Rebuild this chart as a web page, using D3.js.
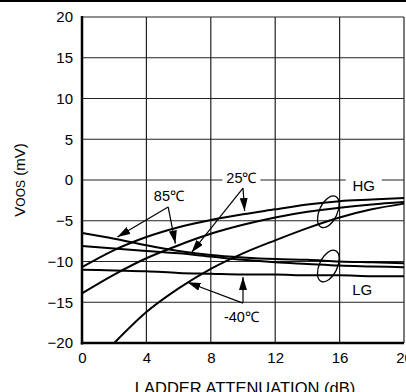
<!DOCTYPE html>
<html>
<head>
<meta charset="utf-8">
<script src="https://cdn.jsdelivr.net/npm/d3@7"></script>
<style>
  body { margin: 0; background: #fff; }
  svg { display: block; }
  text { font-family: "Liberation Sans", Arial, sans-serif; fill: #000; }
</style>
</head>
<body>
<script>
var w = 406, h = 392;

// ladder attenuation (dB) and offset (mV)
var atten = [0, 2, 4, 6, 8, 10, 12, 14, 16, 18, 20];
var hg25  = [-10.7, -8.6, -7.0, -5.8, -4.9, -4.2, -3.6, -3.0, -2.6, -2.4, -2.2];
var hg85  = [-13.9, -11.6, -9.6, -8.0, -6.6, -5.5, -4.6, -3.9, -3.4, -3.0, -2.7];
var hgM40 = [null, -20, -16.2, -13.3, -10.9, -9.0, -7.4, -5.9, -4.6, -3.6, -2.9];
var lg85  = [-6.5, -7.2, -8.0, -8.7, -9.2, -9.5, -9.7, -9.8, -10.0, -10.1, -10.2];
var lg25  = [-8.1, -8.4, -8.7, -9.0, -9.4, -9.8, -10.1, -10.3, -10.5, -10.6, -10.7];
var lgM40 = [-11.0, -11.1, -11.2, -11.4, -11.5, -11.6, -11.6, -11.7, -11.7, -11.8, -11.8];

var xTicks = [0, 4, 8, 12, 16, 20];
var yTicks = [-20, -15, -10, -5, 0, 5, 10, 15, 20];

var svg = d3.select("body").append("svg")
  .attr("width", w)
  .attr("height", h);

var xScale = d3.scaleLinear().domain([0, 20]).range([82, 404]);
var yScale = d3.scaleLinear().domain([-20, 20]).range([343, 17]);

// top rule of the page
svg.append("line")
  .attr("x1", 0).attr("x2", w)
  .attr("y1", 1).attr("y2", 1)
  .attr("stroke", "#000").attr("stroke-width", 2);

// grid
svg.selectAll(".vgrid")
  .data(xTicks.slice(1))
  .enter().append("line")
  .attr("x1", function(d) { return xScale(d); })
  .attr("x2", function(d) { return xScale(d); })
  .attr("y1", yScale(20)).attr("y2", yScale(-20))
  .attr("stroke", "#222").attr("stroke-width", 1.2);

svg.selectAll(".hgrid")
  .data(yTicks.slice(1))
  .enter().append("line")
  .attr("x1", xScale(0)).attr("x2", xScale(20))
  .attr("y1", function(d) { return yScale(d); })
  .attr("y2", function(d) { return yScale(d); })
  .attr("stroke", "#222").attr("stroke-width", 1.2);

// axes
var xAxis = d3.axisBottom(xScale).tickValues(xTicks).tickSize(0).tickPadding(9);
var yAxis = d3.axisLeft(yScale).tickValues(yTicks).tickSize(0).tickPadding(9);

var gx = svg.append("g")
  .attr("transform", "translate(0," + yScale(-20) + ")")
  .call(xAxis);
var gy = svg.append("g")
  .attr("transform", "translate(" + xScale(0) + ",0)")
  .call(yAxis);
[gx, gy].forEach(function(g) {
  g.select(".domain").remove();
  g.selectAll("text")
    .attr("font-size", "15px")
    .attr("font-family", "Liberation Sans, Arial, sans-serif");
});

svg.append("line")
  .attr("x1", xScale(0)).attr("x2", xScale(0))
  .attr("y1", yScale(20) - 1).attr("y2", yScale(-20) + 1.5)
  .attr("stroke", "#000").attr("stroke-width", 2.5);
svg.append("line")
  .attr("x1", xScale(0) - 1.2).attr("x2", xScale(20))
  .attr("y1", yScale(-20)).attr("y2", yScale(-20))
  .attr("stroke", "#000").attr("stroke-width", 2.5);

// axis titles
svg.append("text")
  .attr("transform", "translate(25," + yScale(0) + ") rotate(-90)")
  .attr("text-anchor", "middle")
  .attr("font-size", "15px")
  .text("V")
  .append("tspan").attr("font-size", "12px").text("OOS")
  .select(function() { return this.parentNode; })
  .append("tspan").text(" (mV)");

svg.append("text")
  .attr("x", 245).attr("y", 394)
  .attr("text-anchor", "middle")
  .attr("font-size", "16.5px")
  .text("LADDER ATTENUATION (dB)");

// curves
var line = d3.line()
  .defined(function(d) { return d[1] !== null; })
  .x(function(d) { return xScale(d[0]); })
  .y(function(d) { return yScale(d[1]); })
  .curve(d3.curveMonotoneX);

[hg25, hg85, hgM40, lg85, lg25, lgM40].forEach(function(s) {
  svg.append("path")
    .datum(atten.map(function(a, i) { return [a, s[i]]; }))
    .attr("d", line)
    .attr("fill", "none")
    .attr("stroke", "#000")
    .attr("stroke-width", 2);
});

// arrow heads
svg.append("defs").append("marker")
  .attr("id", "arrow")
  .attr("markerUnits", "userSpaceOnUse")
  .attr("viewBox", "0 0 13 8")
  .attr("refX", 13).attr("refY", 4)
  .attr("markerWidth", 13).attr("markerHeight", 8)
  .attr("orient", "auto")
  .append("path")
  .attr("d", "M0,0 L13,4 L0,8 Z")
  .attr("fill", "#000");

// annotations: label, label pos, apex, arrow tips (data units)
var notes = [
  { t: "85\u2103", x: 5.4, y: -2.6, apex: [5.35, -3.3], tips: [[2.2, -7.0], [5.8, -7.8]], bg: false },
  { t: "25\u2103", x: 9.9, y: -0.4, apex: [10.0, -1.0], tips: [[10.1, -3.8], [6.8, -8.9]], bg: true },
  { t: "-40\u2103", x: 9.9, y: -17.4, apex: [10.0, -15.1], tips: [[10.0, -11.9], [6.55, -12.55]], bg: false }
];

notes.forEach(function(n) {
  n.tips.forEach(function(tp) {
    svg.append("line")
      .attr("x1", xScale(n.apex[0])).attr("y1", yScale(n.apex[1]))
      .attr("x2", xScale(tp[0])).attr("y2", yScale(tp[1]))
      .attr("stroke", "#000").attr("stroke-width", 1.2)
      .attr("marker-end", "url(#arrow)");
  });
  if (n.bg) {
    svg.append("rect")
      .attr("x", xScale(n.x) - 19).attr("y", yScale(n.y) - 14)
      .attr("width", 38).attr("height", 16)
      .attr("fill", "#fff");
  }
  svg.append("text")
    .attr("x", xScale(n.x)).attr("y", yScale(n.y))
    .attr("text-anchor", "middle")
    .attr("font-size", "14.5px")
    .text(n.t);
});

// gain groups
var groups = [
  { t: "HG", x: 17.5, y: -1.35, ex: 15.3, ey: -3.9, bg: true },
  { t: "LG", x: 17.4, y: -14.1, ex: 15.3, ey: -10.55, bg: false }
];

groups.forEach(function(g) {
  svg.append("ellipse")
    .attr("cx", 0).attr("cy", 0)
    .attr("rx", 9).attr("ry", 17)
    .attr("transform", "translate(" + xScale(g.ex) + "," + yScale(g.ey) + ") rotate(25)")
    .attr("fill", "none")
    .attr("stroke", "#000").attr("stroke-width", 1.3);
  if (g.bg) {
    svg.append("rect")
      .attr("x", xScale(g.x) - 18).attr("y", yScale(g.y) - 14)
      .attr("width", 36).attr("height", 16)
      .attr("fill", "#fff");
  }
  svg.append("text")
    .attr("x", xScale(g.x)).attr("y", yScale(g.y))
    .attr("text-anchor", "middle")
    .attr("font-size", "15px")
    .text(g.t);
});
</script>
</body>
</html>
